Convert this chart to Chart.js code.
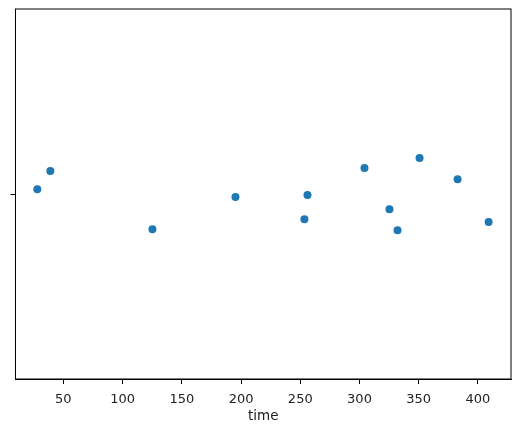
<!DOCTYPE html>
<html lang="en">
<head>
  <meta charset="UTF-8">
  <title>Strip plot of time</title>
  <style>
    html, body { margin: 0; padding: 0; background: #fff; }
    #wrap { width: 520px; height: 432px; }
  </style>
</head>
<body>
  <div id="wrap"><canvas id="chart" width="520" height="432"></canvas></div>

  <script src="https://cdn.jsdelivr.net/npm/chart.js"></script>
  <script>
    // values
    const times = [28.0, 39.0, 125.2, 195.3, 253.5, 256.1, 304.2, 325.3, 332.1, 350.7, 382.8, 409.0];
    const jitter = [-0.013, -0.062, 0.095, 0.008, 0.068, 0.003, -0.070, 0.041, 0.098, -0.097, -0.040, 0.076];
    const xTicks = [50, 100, 150, 200, 250, 300, 350, 400];
    const yTicks = [0];

    const points = times.map((t, i) => ({ x: t, y: jitter[i] }));

    // draws the top and right sides of the box
    const frame = {
      id: 'frame',
      afterDraw(chart) {
        const a = chart.chartArea, c = chart.ctx;
        c.save();
        c.strokeStyle = '#000';
        c.lineWidth = 1;
        c.strokeRect(a.left, a.top, a.right - a.left, a.bottom - a.top);
        c.restore();
      }
    };

    new Chart(document.getElementById('chart').getContext('2d'), {
      type: 'scatter',
      data: {
        datasets: [{
          data: points,
          backgroundColor: '#1f77b4',
          borderWidth: 0,
          pointRadius: 4,
          pointHoverRadius: 4
        }]
      },
      options: {
        responsive: false,
        animation: false,
        layout: { padding: { top: 9, right: 9, left: 0, bottom: 0 } },
        plugins: { legend: { display: false }, tooltip: { enabled: false } },
        scales: {
          x: {
            type: 'linear',
            min: 9.6,
            max: 427.9,
            afterBuildTicks: s => { s.ticks = xTicks.map(v => ({ value: v })); },
            afterFit: s => { s.height = 53; },
            grid: { drawOnChartArea: false, tickLength: 5, color: '#000', tickWidth: 1 },
            border: { color: '#000', width: 1 },
            ticks: { color: '#222', padding: 8, maxRotation: 0, font: { family: 'DejaVu Sans', size: 13 } },
            title: { display: true, text: 'time', color: '#222', padding: { top: 0, bottom: 7 }, font: { family: 'DejaVu Sans', size: 13.5 } }
          },
          y: {
            type: 'linear',
            min: -0.5,
            max: 0.5,
            reverse: true,
            afterBuildTicks: s => { s.ticks = yTicks.map(v => ({ value: v })); },
            afterFit: s => { s.width = 15.5; },
            grid: { drawOnChartArea: false, tickLength: 5, color: '#000', tickWidth: 1 },
            border: { color: '#000', width: 1 },
            ticks: { callback: () => '', padding: 0 }
          }
        }
      },
      plugins: [frame]
    });
  </script>
</body>
</html>
